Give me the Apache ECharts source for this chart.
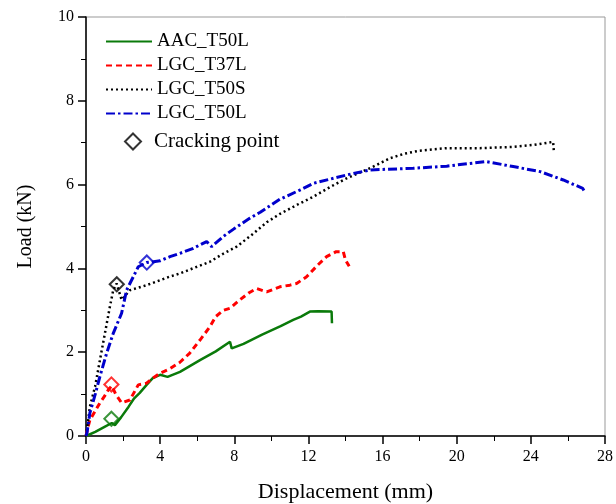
<!DOCTYPE html>
<html>
<head>
<meta charset="utf-8">
<script src="https://cdn.jsdelivr.net/npm/echarts@6/dist/echarts.min.js"></script>
<style>
  html, body { margin: 0; padding: 0; background: #fff; }
  #main { width: 616px; height: 504px; }
</style>
</head>
<body>
<div id="main"></div>
<script>
// load-displacement curves, [displacement mm, load kN]
const aacT50L = [[0,0],[0.5,0.1],[1.0,0.22],[1.39,0.31],[1.56,0.26],[1.9,0.45],[2.3,0.7],[2.6,0.9],[2.9,1.03],
    [3.27,1.22],[3.6,1.38],[4.0,1.46],[4.4,1.41],[5.07,1.53],[6.15,1.81],[7.0,2.02],[7.77,2.25],[7.86,2.09],
    [8.5,2.2],[9.5,2.42],[10.5,2.62],[11.18,2.77],[11.6,2.85],[12.08,2.97],[12.5,2.98],[13.25,2.97],[13.27,2.69]];
const lgcT37L = [[0,0],[0.1,0.2],[0.21,0.38],[0.5,0.6],[0.75,0.79],[1.0,0.95],[1.2,1.1],[1.39,1.2],[1.6,1.0],
    [1.92,0.79],[2.37,0.86],[2.82,1.22],[3.27,1.26],[3.6,1.38],[4.0,1.5],[4.5,1.6],[5.07,1.76],[5.6,1.98],
    [6.15,2.29],[6.69,2.61],[7.0,2.85],[7.41,3.0],[7.77,3.05],[8.3,3.25],[8.8,3.42],[9.2,3.52],[9.75,3.44],
    [10.46,3.56],[11.0,3.6],[11.36,3.64],[11.9,3.8],[12.5,4.08],[12.98,4.28],[13.5,4.4],[13.88,4.4],[14.0,4.2],[14.2,4.05]];
const lgcT50S = [[0,0],[0.05,0.14],[0.21,0.7],[0.49,1.18],[0.75,1.81],[1.02,2.45],[1.29,3.09],[1.47,3.48],
    [1.65,3.64],[1.92,3.25],[2.37,3.48],[3.27,3.6],[4.5,3.8],[5.07,3.88],[6.69,4.16],[7.4,4.35],[8.13,4.52],
    [9.0,4.82],[9.75,5.1],[10.46,5.3],[11.4,5.52],[12.26,5.71],[13.2,5.95],[14.06,6.15],[15.32,6.39],[16.4,6.63],
    [17.2,6.74],[18.0,6.81],[19.46,6.87],[21.25,6.87],[23.05,6.9],[24.2,6.95],[25.2,7.02],[25.25,6.75]];
const lgcT50L = [[0,0],[0.05,0.07],[0.21,0.55],[0.5,1.0],[0.75,1.42],[1.11,1.97],[1.47,2.45],[1.92,2.93],
    [2.19,3.48],[2.55,3.8],[2.82,4.04],[3.27,4.14],[4.0,4.18],[4.53,4.28],[5.07,4.36],[5.79,4.48],[6.51,4.64],
    [6.78,4.52],[7.4,4.76],[8.0,4.95],[8.85,5.2],[9.4,5.34],[10.46,5.65],[11.54,5.87],[12.26,6.03],[14.06,6.23],
    [15.32,6.35],[17.65,6.39],[19.46,6.44],[21.6,6.55],[23.05,6.43],[24.5,6.31],[25.75,6.11],[26.8,5.91],[26.9,5.83]];
const crackPoints = [[1.37,0.41],[1.37,1.23],[1.66,3.62],[3.28,4.14]];
const crackColors = ['#0a7a0a', '#ff0000', '#000000', '#0000cc'];

const font = 'Liberation Serif';
const chart = echarts.init(document.getElementById('main'));

const lineSeries = (name, data, color, type, width) => ({
    name: name,
    type: 'line',
    data: data,
    showSymbol: false,
    symbol: 'none',
    animation: false,
    lineStyle: {color: color, width: width, type: type},
    itemStyle: {color: color}
});

const option = {
    backgroundColor: '#fff',
    animation: false,
    grid: {
        left: 86, right: 11, top: 17, bottom: 68,
        outerBoundsMode: 'none',
        show: true, borderColor: '#999', borderWidth: 1
    },
    legend: [{
        orient: 'vertical',
        left: 105, top: 32, padding: 0,
        itemWidth: 46, itemHeight: 10, itemGap: 5,
        itemStyle: {opacity: 0},
        textStyle: {fontFamily: font, fontSize: 19, color: '#000', padding: [0, 0, 0, 0]},
        data: ['AAC_T50L', 'LGC_T37L', 'LGC_T50S', 'LGC_T50L']
    }, {
        left: 124, top: 131, padding: 0,
        itemWidth: 16, itemHeight: 16,
        textStyle: {fontFamily: font, fontSize: 21, color: '#000', padding: [0, 0, 0, 8]},
        data: [{
            name: 'Cracking point',
            icon: 'path://M0,-1L1,0L0,1L-1,0Z',
            itemStyle: {color: 'rgba(255,255,255,0)', borderColor: '#000', borderWidth: 2}
        }]
    }],
    xAxis: {
        type: 'value',
        min: 0, max: 28, interval: 4,
        name: 'Displacement (mm)',
        nameLocation: 'middle',
        nameGap: 45,
        nameTextStyle: {fontFamily: font, fontSize: 22, color: '#000'},
        axisLine: {lineStyle: {color: '#000', width: 1.5}},
        axisTick: {inside: false, length: 8, lineStyle: {color: '#000', width: 1.5}},
        minorTick: {show: true, splitNumber: 2, length: 5, lineStyle: {color: '#000', width: 1}},
        axisLabel: {fontFamily: font, fontSize: 16, color: '#000', margin: 13},
        splitLine: {show: false}
    },
    yAxis: {
        type: 'value',
        min: 0, max: 10, interval: 2,
        name: 'Load (kN)',
        nameLocation: 'middle',
        nameGap: 50,
        nameTextStyle: {fontFamily: font, fontSize: 20, color: '#000'},
        axisLine: {show: true, lineStyle: {color: '#000', width: 1.5}},
        axisTick: {show: true, inside: false, length: 8, lineStyle: {color: '#000', width: 1.5}},
        minorTick: {show: true, splitNumber: 2, length: 5, lineStyle: {color: '#000', width: 1}},
        axisLabel: {fontFamily: font, fontSize: 16, color: '#000', margin: 12},
        splitLine: {show: false}
    },
    series: [
        lineSeries('AAC_T50L', aacT50L, '#0a7a0a', 'solid', 2.5),
        lineSeries('LGC_T37L', lgcT37L, '#ff0000', [6, 4], 3),
        lineSeries('LGC_T50S', lgcT50S, '#000000', [2, 3], 2.5),
        lineSeries('LGC_T50L', lgcT50L, '#0000cc', [9, 3, 2.5, 3], 3),
        {
            name: 'Cracking point',
            type: 'scatter',
            symbol: 'rect',
            symbolRotate: 45,
            symbolSize: 10,
            animation: false,
            z: 5,
            itemStyle: {color: 'rgba(255,255,255,0)', borderColor: '#000', borderWidth: 2},
            data: crackPoints.map((p, i) => ({
                value: p,
                itemStyle: {color: 'rgba(255,255,255,0)', borderColor: crackColors[i], borderWidth: 2}
            }))
        }
    ]
};

chart.setOption(option);
</script>
</body>
</html>
